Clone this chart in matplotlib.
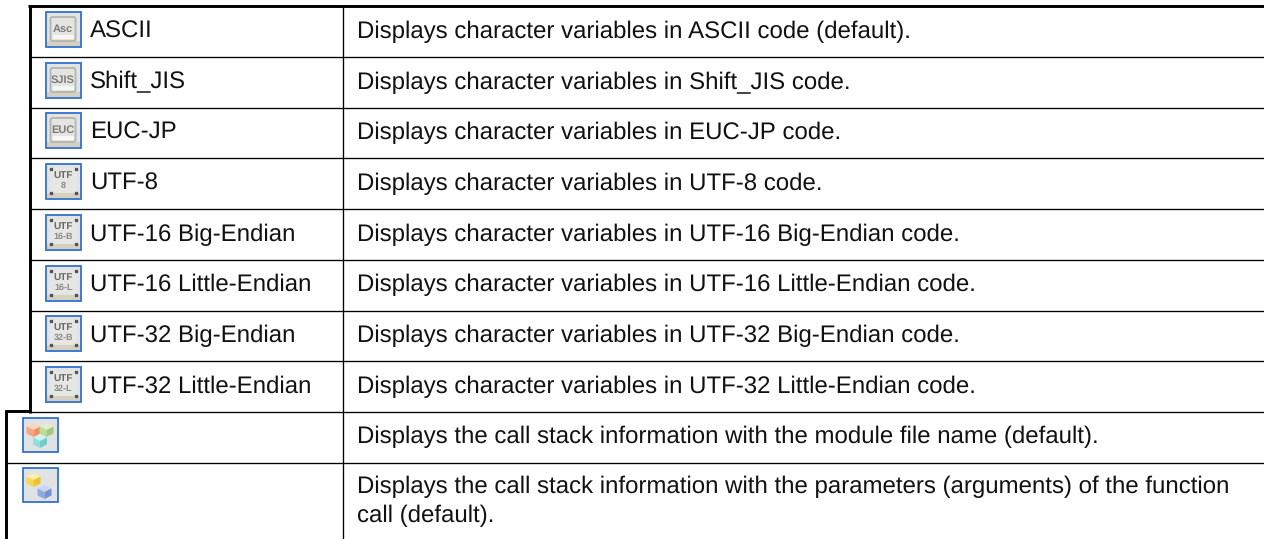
import matplotlib
matplotlib.use("Agg")
import matplotlib.pyplot as plt
from matplotlib.patches import Polygon, Rectangle, FancyBboxPatch

plt.rcParams["font.family"] = ["Liberation Sans", "DejaVu Sans"]
plt.rcParams["text.hinting"] = "no_hinting"
plt.rcParams["text.hinting_factor"] = 1

# table content
names = [
    "ASCII",
    "Shift_JIS",
    "EUC-JP",
    "UTF-8",
    "UTF-16 Big-Endian",
    "UTF-16 Little-Endian",
    "UTF-32 Big-Endian",
    "UTF-32 Little-Endian",
]
descriptions = [
    "Displays character variables in ASCII code (default).",
    "Displays character variables in Shift_JIS code.",
    "Displays character variables in EUC-JP code.",
    "Displays character variables in UTF-8 code.",
    "Displays character variables in UTF-16 Big-Endian code.",
    "Displays character variables in UTF-16 Little-Endian code.",
    "Displays character variables in UTF-32 Big-Endian code.",
    "Displays character variables in UTF-32 Little-Endian code.",
]
icon_labels = ["Asc", "SJIS", "EUC", "UTF\n8", "UTF\n16-B", "UTF\n16-L", "UTF\n32-B", "UTF\n32-L"]
stack_descriptions = [
    "Displays the call stack information with the module file name (default).",
    "Displays the call stack information with the parameters (arguments) of the function\ncall (default).",
]
row_lines = [56.5, 107.5, 157.5, 208.5, 259.5, 310.5, 360.5, 411.5]
stack_line = 462.5
baselines = [38, 88.7, 139, 190, 240.7, 290.7, 341.7, 392.7]
icon_tops = [12, 63, 113, 164, 215, 266, 316, 367]
stack_tops = [418, 468]
stack_baselines = [442.7, 493]
# (dx, dy, front colour, side colour, top colour) of each cube in a stack icon
stack_cubes = [
    [(11, 12, "#f6a77c", "#ee8f62", "#fbd5bf"), (24, 12, "#bcdc98", "#a3c982", "#e0efce"), (17.5, 23, "#8fe0da", "#74ccc8", "#cdf3f0")],
    [(11, 12, "#f8d94e", "#eec22e", "#fcf0ac"), (22, 24, "#8ea8e2", "#7390d2", "#c8d6f4")],
]

W, H = 1264, 539
TEXT = "#111111"
FS = 17.06

fig = plt.figure(figsize=(W / 100, H / 100), dpi=100, facecolor="white")
ax = fig.add_axes([0, 0, 1, 1])
ax.set_xlim(0, W)
ax.set_ylim(H, 0)
ax.axis("off")


def draw_icon(x, y, label):
    ax.add_patch(Rectangle((x, y), 35, 35, fc="#e3e3df", ec="#3370d0", lw=1.3))
    ax.add_patch(Rectangle((x + 1, y + 29), 33, 5, fc="#d5d1bf", ec="none"))
    lines = label.split("\n")
    if len(lines) == 1:
        ax.add_patch(
            FancyBboxPatch(
                (x + 5, y + 5), 25, 24,
                boxstyle="round,pad=0,rounding_size=2",
                fc="#e4e4e2", ec="#b4b4b0", lw=1.3,
            )
        )
        ax.add_patch(Rectangle((x + 7, y + 23), 21, 4, fc="#f6f6f4", ec="none"))
        ax.text(x + 17.5, y + 17, label, fontsize=8, fontweight="bold", color="#7c7c7c",
                ha="center", va="center")
    else:
        ax.add_patch(Rectangle((x + 4, y + 4), 27, 25, fc="#e6e6e4", ec="none"))
        ax.plot([x + 5, x + 30, x + 5, x + 30], [y + 5, y + 5, y + 29, y + 29], ls="none",
                marker="s", ms=1.6, color="#555555")
        ax.text(x + 18, y + 11, lines[0], fontsize=7, fontweight="bold", color="#6a6a6a",
                ha="center", va="center")
        ax.text(x + 18, y + 22, lines[1], fontsize=6.6, fontweight="bold", color="#8a8a8a",
                ha="center", va="center")


def draw_cube(cx, cy, front, side, top, s=7):
    ax.add_patch(Polygon([(cx - s, cy - s / 2), (cx, cy - s), (cx + s, cy - s / 2), (cx, cy)], fc=top, ec="none"))
    ax.add_patch(Polygon([(cx - s, cy - s / 2), (cx, cy), (cx, cy + s), (cx - s, cy + s / 2)], fc=front, ec="none"))
    ax.add_patch(Polygon([(cx + s, cy - s / 2), (cx, cy), (cx, cy + s), (cx + s, cy + s / 2)], fc=side, ec="none"))


# rules
ax.hlines(row_lines, 29, W, color="black", lw=0.95)
ax.hlines(stack_line, 6, W, color="black", lw=0.95)
ax.vlines(342.7, 6, H, color="black", lw=0.95)
ax.hlines(6.4, 28, W, color="black", lw=2.1)
ax.vlines(29.5, 5, 412.5, color="black", lw=2.1)
ax.hlines(411.4, 5, 31, color="black", lw=2.1)
ax.vlines(6.4, 410, H, color="black", lw=2.1)

# encoding rows
for name, desc, label, base, top in zip(names, descriptions, icon_labels, baselines, icon_tops):
    draw_icon(45.5, top, label)
    ax.text(90, base, name, fontsize=FS, color=TEXT, ha="left", va="baseline")
    ax.text(357, base, desc, fontsize=FS, color=TEXT, ha="left", va="baseline")

# call stack rows
for desc, base, top, cubes in zip(stack_descriptions, stack_baselines, stack_tops, stack_cubes):
    ax.add_patch(Rectangle((22.5, top), 35, 34, fc="#dfe3e6", ec="#3370d0", lw=1.3))
    for dx, dy, front, side, top_col in cubes:
        draw_cube(22.5 + dx, top + dy, front, side, top_col)
    for i, line in enumerate(desc.split("\n")):
        ax.text(357, base + i * 28.7, line, fontsize=FS, color=TEXT, ha="left", va="baseline")

fig.savefig("out.png", dpi=100, facecolor="white")
plt.close(fig)
